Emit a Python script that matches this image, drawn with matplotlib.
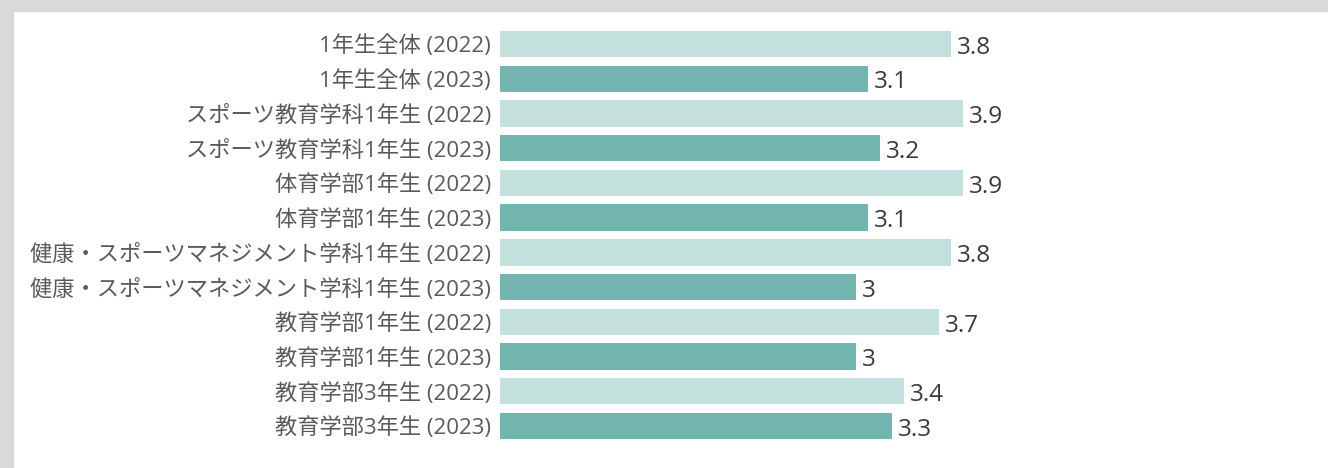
import matplotlib.pyplot as plt
from matplotlib.patches import Rectangle

plt.rcParams['font.family'] = ['Open Sans', 'Noto Sans CJK JP', 'DejaVu Sans']

labels = [
    "1年生全体 (2022)",
    "1年生全体 (2023)",
    "スポーツ教育学科1年生 (2022)",
    "スポーツ教育学科1年生 (2023)",
    "体育学部1年生 (2022)",
    "体育学部1年生 (2023)",
    "健康・スポーツマネジメント学科1年生 (2022)",
    "健康・スポーツマネジメント学科1年生 (2023)",
    "教育学部1年生 (2022)",
    "教育学部1年生 (2023)",
    "教育学部3年生 (2022)",
    "教育学部3年生 (2023)",
]
values = [3.8, 3.1, 3.9, 3.2, 3.9, 3.1, 3.8, 3.0, 3.7, 3.0, 3.4, 3.3]
value_text = ["3.8", "3.1", "3.9", "3.2", "3.9", "3.1", "3.8", "3", "3.7", "3", "3.4", "3.3"]
years = [2022, 2023] * 6

LIGHT = "#c4e0dd"
DARK = "#72b4ae"

W, H = 1328, 468
fig = plt.figure(figsize=(W / 100, H / 100), dpi=100)
fig.patch.set_facecolor("white")

# grey frame on top and left
fig.patches.append(Rectangle((0, 1 - 11 / H), 1, 11 / H, transform=fig.transFigure,
                             color="#d9d9d9", zorder=0))
fig.patches.append(Rectangle((0, 0), 13 / W, 1, transform=fig.transFigure,
                             color="#d9d9d9", zorder=0))

left, right = 500, 500 + 118.7 * 5
top, bottom = 26.6, 443.4
ax = fig.add_axes([left / W, 1 - bottom / H, (right - left) / W, (bottom - top) / H])
ax.set_facecolor("none")

y = list(range(len(labels)))
colors = [LIGHT if yr == 2022 else DARK for yr in years]
ax.barh(y, values, height=0.76, color=colors)
for yi, v, t in zip(y, values, value_text):
    ax.text(v + 0.05, yi + 0.02, t, va="center_baseline", ha="left", fontsize=17.5,
            color="#3a3a3a")

ax.set_xlim(0, 5)
ax.set_ylim(len(labels) - 0.5, -0.5)
ax.set_yticks(y)
ax.set_yticklabels(labels, fontsize=16, color="#5a5a5a")
ax.tick_params(axis="y", length=0, pad=6.5)
ax.set_xticks([])
for s in ax.spines.values():
    s.set_visible(False)

fig.savefig("out.png", dpi=100)
